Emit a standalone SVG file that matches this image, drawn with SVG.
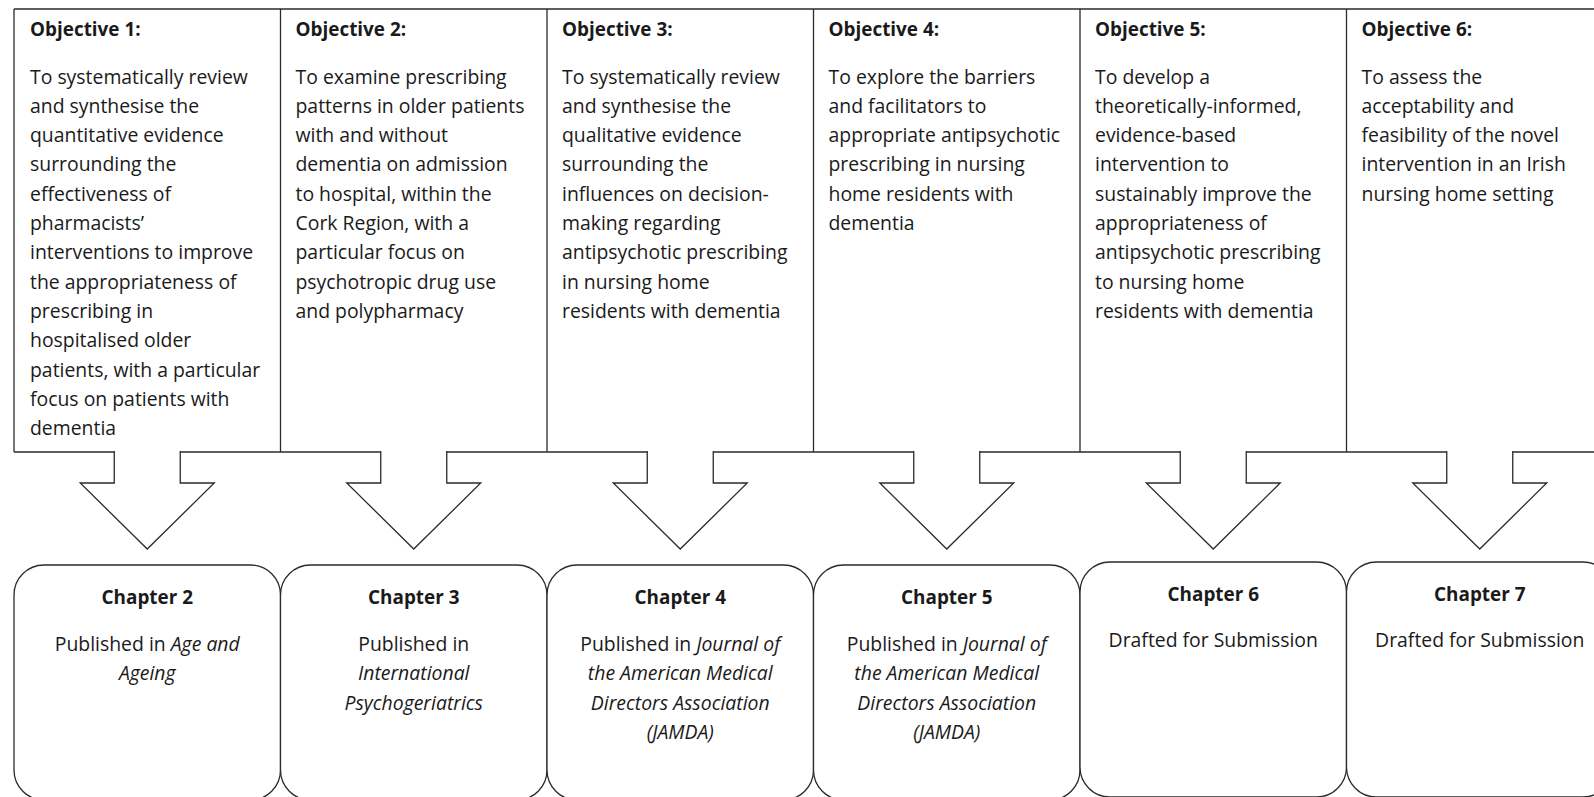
<svg xmlns="http://www.w3.org/2000/svg" width="1594" height="797" viewBox="0 0 1594 797">
<style>
.ln{fill:none;stroke:#2b2b2b;stroke-width:1.3}
.arrow{fill:#fff;stroke:#2b2b2b;stroke-width:1.3;stroke-linejoin:miter}
.box{fill:#fff;stroke:#2b2b2b;stroke-width:1.3}
.t{font-family:"Open Sans","Liberation Sans",sans-serif;font-size:19.4px;fill:#1a1a1a}
.h{font-weight:bold;font-size:18.9px}
.c{text-anchor:middle}
.i{font-style:italic}
</style>
<rect x="0" y="0" width="1594" height="797" fill="#fff"/>
<g id="table">
<path class="ln" d="M14,9 H1620 M14,9 V452 M280.5,9 V452 M547,9 V452 M813.5,9 V452 M1080,9 V452 M1346.5,9 V452"/>
<path class="ln" d="M14,452 H114.25 M180.25,452 H380.75 M446.75,452 H647.25 M713.25,452 H913.75 M979.75,452 H1180.25 M1246.25,452 H1446.75 M1512.75,452 H1620"/>
</g>
<g id="objective1">
<text class="t h" x="30" y="36">Objective 1:</text>
<text class="t" x="30" y="83.5">To systematically review<tspan x="30" dy="29.3">and synthesise the</tspan><tspan x="30" dy="29.3">quantitative evidence</tspan><tspan x="30" dy="29.3">surrounding the</tspan><tspan x="30" dy="29.3">effectiveness of</tspan><tspan x="30" dy="29.3">pharmacists’</tspan><tspan x="30" dy="29.3">interventions to improve</tspan><tspan x="30" dy="29.3">the appropriateness of</tspan><tspan x="30" dy="29.3">prescribing in</tspan><tspan x="30" dy="29.3">hospitalised older</tspan><tspan x="30" dy="29.3">patients, with a particular</tspan><tspan x="30" dy="29.3">focus on patients with</tspan><tspan x="30" dy="29.3">dementia</tspan></text>
</g>
<g id="objective2">
<text class="t h" x="295.5" y="36">Objective 2:</text>
<text class="t" x="295.5" y="83.5">To examine prescribing<tspan x="295.5" dy="29.3">patterns in older patients</tspan><tspan x="295.5" dy="29.3">with and without</tspan><tspan x="295.5" dy="29.3">dementia on admission</tspan><tspan x="295.5" dy="29.3">to hospital, within the</tspan><tspan x="295.5" dy="29.3">Cork Region, with a</tspan><tspan x="295.5" dy="29.3">particular focus on</tspan><tspan x="295.5" dy="29.3">psychotropic drug use</tspan><tspan x="295.5" dy="29.3">and polypharmacy</tspan></text>
</g>
<g id="objective3">
<text class="t h" x="562" y="36">Objective 3:</text>
<text class="t" x="562" y="83.5">To systematically review<tspan x="562" dy="29.3">and synthesise the</tspan><tspan x="562" dy="29.3">qualitative evidence</tspan><tspan x="562" dy="29.3">surrounding the</tspan><tspan x="562" dy="29.3">influences on decision-</tspan><tspan x="562" dy="29.3">making regarding</tspan><tspan x="562" dy="29.3">antipsychotic prescribing</tspan><tspan x="562" dy="29.3">in nursing home</tspan><tspan x="562" dy="29.3">residents with dementia</tspan></text>
</g>
<g id="objective4">
<text class="t h" x="828.5" y="36">Objective 4:</text>
<text class="t" x="828.5" y="83.5">To explore the barriers<tspan x="828.5" dy="29.3">and facilitators to</tspan><tspan x="828.5" dy="29.3">appropriate antipsychotic</tspan><tspan x="828.5" dy="29.3">prescribing in nursing</tspan><tspan x="828.5" dy="29.3">home residents with</tspan><tspan x="828.5" dy="29.3">dementia</tspan></text>
</g>
<g id="objective5">
<text class="t h" x="1095" y="36">Objective 5:</text>
<text class="t" x="1095" y="83.5">To develop a<tspan x="1095" dy="29.3">theoretically-informed,</tspan><tspan x="1095" dy="29.3">evidence-based</tspan><tspan x="1095" dy="29.3">intervention to</tspan><tspan x="1095" dy="29.3">sustainably improve the</tspan><tspan x="1095" dy="29.3">appropriateness of</tspan><tspan x="1095" dy="29.3">antipsychotic prescribing</tspan><tspan x="1095" dy="29.3">to nursing home</tspan><tspan x="1095" dy="29.3">residents with dementia</tspan></text>
</g>
<g id="objective6">
<text class="t h" x="1361.5" y="36">Objective 6:</text>
<text class="t" x="1361.5" y="83.5">To assess the<tspan x="1361.5" dy="29.3">acceptability and</tspan><tspan x="1361.5" dy="29.3">feasibility of the novel</tspan><tspan x="1361.5" dy="29.3">intervention in an Irish</tspan><tspan x="1361.5" dy="29.3">nursing home setting</tspan></text>
</g>
<g id="connectors">
<path class="arrow" d="M114.25,451 V483 H80.25 L147.25,549 L214.25,483 H180.25 V451"/>
<path class="arrow" d="M380.75,451 V483 H346.75 L413.75,549 L480.75,483 H446.75 V451"/>
<path class="arrow" d="M647.25,451 V483 H613.25 L680.25,549 L747.25,483 H713.25 V451"/>
<path class="arrow" d="M913.75,451 V483 H879.75 L946.75,549 L1013.75,483 H979.75 V451"/>
<path class="arrow" d="M1180.25,451 V483 H1146.25 L1213.25,549 L1280.25,483 H1246.25 V451"/>
<path class="arrow" d="M1446.75,451 V483 H1412.75 L1479.75,549 L1546.75,483 H1512.75 V451"/>
</g>
<g id="chapter2">
<rect class="box" x="14" y="565" width="266.5" height="235" rx="30" ry="30"/>
<text class="t h c" x="147.25" y="604">Chapter 2</text>
<text class="t c" x="147.25" y="651">Published in <tspan class="i">Age and</tspan><tspan class="i" x="147.25" dy="29.3">Ageing</tspan></text>
</g>
<g id="chapter3">
<rect class="box" x="280.5" y="565" width="266.5" height="235" rx="30" ry="30"/>
<text class="t h c" x="413.75" y="604">Chapter 3</text>
<text class="t c" x="413.75" y="651">Published in<tspan class="i" x="413.75" dy="29.3">International</tspan><tspan class="i" x="413.75" dy="29.3">Psychogeriatrics</tspan></text>
</g>
<g id="chapter4">
<rect class="box" x="547" y="565" width="266.5" height="235" rx="30" ry="30"/>
<text class="t h c" x="680.25" y="604">Chapter 4</text>
<text class="t c" x="680.25" y="651">Published in <tspan class="i">Journal of</tspan><tspan class="i" x="680.25" dy="29.3">the American Medical</tspan><tspan class="i" x="680.25" dy="29.3">Directors Association</tspan><tspan class="i" x="680.25" dy="29.3">(JAMDA)</tspan></text>
</g>
<g id="chapter5">
<rect class="box" x="813.5" y="565" width="266.5" height="235" rx="30" ry="30"/>
<text class="t h c" x="946.75" y="604">Chapter 5</text>
<text class="t c" x="946.75" y="651">Published in <tspan class="i">Journal of</tspan><tspan class="i" x="946.75" dy="29.3">the American Medical</tspan><tspan class="i" x="946.75" dy="29.3">Directors Association</tspan><tspan class="i" x="946.75" dy="29.3">(JAMDA)</tspan></text>
</g>
<g id="chapter6">
<rect class="box" x="1080" y="562" width="266.5" height="235" rx="30" ry="30"/>
<text class="t h c" x="1213.25" y="600.5">Chapter 6</text>
<text class="t c" x="1213.25" y="647">Drafted for Submission</text>
</g>
<g id="chapter7">
<rect class="box" x="1346.5" y="562" width="266.5" height="235" rx="30" ry="30"/>
<text class="t h c" x="1479.75" y="600.5">Chapter 7</text>
<text class="t c" x="1479.75" y="647">Drafted for Submission</text>
</g>
</svg>
